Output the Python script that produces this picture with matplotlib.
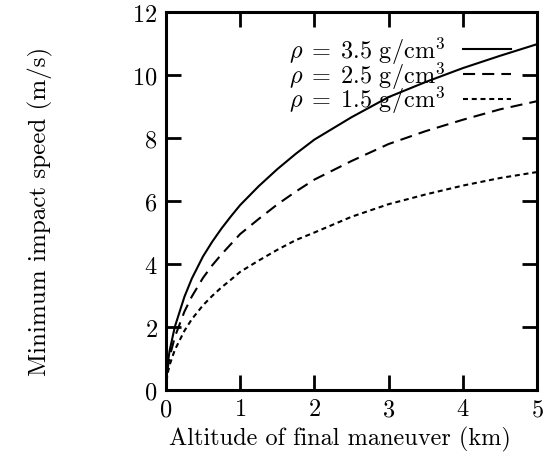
#!/usr/bin/env python3
"""minimum impact speed vs altitude of final maneuver"""

import matplotlib
matplotlib.use('Agg')
import matplotlib.pyplot as plt

plt.rcParams['font.family'] = ['cmr10', 'DejaVu Serif']
plt.rcParams['mathtext.fontset'] = 'cm'
plt.rcParams['axes.formatter.use_mathtext'] = True

# values
altitude = [0, 0.02, 0.05, 0.12, 0.25, 0.35, 0.5, 0.625, 0.75, 0.875, 1,
            1.25, 1.5, 1.75, 2, 2.5, 3, 3.5, 4, 4.5, 5]
speed_35 = [0, 0.75, 1.24, 2.0, 2.96, 3.54, 4.24, 4.71, 5.13, 5.51, 5.87,
            6.47, 7.01, 7.50, 7.95, 8.66, 9.3, 9.78, 10.22, 10.61, 10.98]
speed_25 = [0, 0.63, 1.04, 1.68, 2.49, 2.97, 3.56, 3.96, 4.31, 4.63, 4.95,
            5.43, 5.89, 6.30, 6.68, 7.27, 7.81, 8.22, 8.58, 8.91, 9.17]
speed_15 = [0, 0.48, 0.79, 1.27, 1.88, 2.25, 2.69, 2.99, 3.26, 3.50, 3.75,
            4.11, 4.45, 4.76, 5.0, 5.5, 5.9, 6.21, 6.49, 6.73, 6.92]
labels = [r'$\rho\;=\;3.5\ \mathrm{g/cm}^3$',
          r'$\rho\;=\;2.5\ \mathrm{g/cm}^3$',
          r'$\rho\;=\;1.5\ \mathrm{g/cm}^3$']
xticks = [0, 1, 2, 3, 4, 5]
yticks = [0, 2, 4, 6, 8, 10, 12]

fs = 17.5
fig = plt.figure(figsize=(5.51, 4.56), dpi=100)
ax = fig.add_axes([0.301, 0.1425, 0.674, 0.829])

lw = 1.5
ax.plot(altitude, speed_35, color='black', linewidth=lw, label=labels[0])
ax.plot(altitude, speed_25, color='black', linewidth=lw, label=labels[1],
        linestyle=(0, (5.8, 3.4)))
ax.plot(altitude, speed_15, color='black', linewidth=lw, label=labels[2],
        linestyle=(0, (2.4, 1.8)))

ax.set_xlim(0, 5)
ax.set_ylim(0, 12)
ax.set_xticks(xticks)
ax.set_yticks(yticks)
for s in ax.spines.values():
    s.set_linewidth(2.2)
ax.tick_params(direction='in', length=11, width=2, top=True, right=True,
               labelsize=fs, pad=6)

ax.set_xlabel('Altitude of final maneuver (km)', fontsize=fs)
ax.set_ylabel('Minimum impact speed (m/s)', fontsize=18)
ax.xaxis.set_label_coords(0.47, -0.095)
ax.yaxis.set_label_coords(-0.305, 0.476)

ax.legend(loc='upper right', bbox_to_anchor=(0.976, 0.985), frameon=False,
          markerfirst=False, fontsize=fs, handlelength=2.0,
          labelspacing=-0.28, borderaxespad=0.3, handletextpad=0.7)

fig.savefig('out.png', dpi=100)
